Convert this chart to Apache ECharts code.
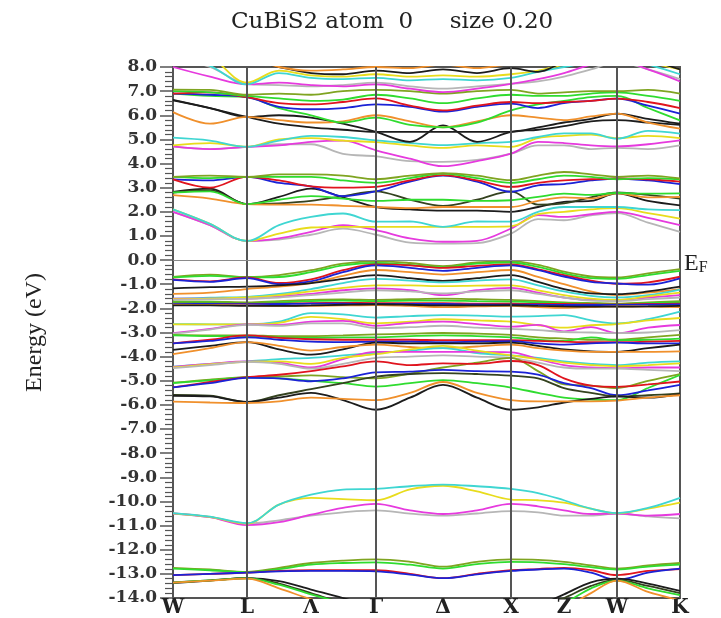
<!DOCTYPE html>
<html>
<head>
<meta charset="utf-8">
<script src="https://cdn.jsdelivr.net/npm/echarts@6/dist/echarts.min.js"></script>
<style>html,body{margin:0;padding:0;background:#fff;}#chart{width:721px;height:618px;}</style>
</head>
<body>
<div id="chart"></div>
<script>
// k-path sampling positions (relative path length) and high-symmetry labels
const kPos = [0,37,74,106,138,170,203,237,270,304,338,365,391,418,444,475,507];
const kNodes = [0,74,203,338,444,507];            // W L Γ X W K
const kLabelPos = [0,74,138,203,270,338,391,444,507];
const kLabels = ['W','L','Λ','Γ','Δ','X','Z','W','K'];
const titleText = 'CuBiS2 atom  0     size 0.20';

// Lowest group (~ -13 eV)
const lowBands = [
 [-12.75,-12.82,-12.92,-12.75,-12.55,-12.45,-12.4,-12.5,-12.7,-12.5,-12.4,-12.42,-12.5,-12.65,-12.78,-12.65,-12.55],
 [-12.78,-12.85,-12.93,-12.8,-12.62,-12.55,-12.52,-12.62,-12.78,-12.6,-12.5,-12.52,-12.6,-12.72,-12.82,-12.7,-12.62],
 [-13.05,-13.0,-12.95,-12.88,-12.85,-12.85,-12.85,-13.0,-13.18,-13.0,-12.85,-12.8,-12.75,-12.85,-13.05,-12.88,-12.8],
 [-13.05,-13.0,-12.95,-12.9,-12.88,-12.88,-12.9,-13.03,-13.18,-13.02,-12.88,-12.82,-12.78,-12.95,-13.25,-12.95,-12.78],
 [-13.38,-13.28,-13.18,-13.3,-13.65,-14.0,-14.4,-14.6,-14.6,-14.6,-14.5,-14.3,-13.85,-13.35,-13.2,-13.4,-13.7],
 [-13.35,-13.27,-13.18,-13.4,-13.8,-14.2,-14.5,-14.6,-14.6,-14.6,-14.5,-14.4,-14.0,-13.5,-13.25,-13.5,-13.8],
 [-13.36,-13.27,-13.19,-13.45,-13.85,-14.2,-14.5,-14.6,-14.6,-14.6,-14.5,-14.4,-14.2,-13.6,-13.28,-13.6,-13.88],
 [-13.36,-13.28,-13.2,-13.6,-14.05,-14.4,-14.6,-14.6,-14.6,-14.6,-14.6,-14.6,-14.4,-13.8,-13.28,-13.75,-14.1]
];
const lowColors = ['olive','green','red','blue','black','darkgreen','green','orange'];

// s-like group (~ -10 eV)
const sBands = [
 [-10.5,-10.65,-10.92,-10.78,-10.59,-10.45,-10.37,-10.5,-10.59,-10.5,-10.4,-10.45,-10.59,-10.59,-10.5,-10.62,-10.7],
 [-10.5,-10.65,-10.98,-10.86,-10.55,-10.27,-10.1,-10.37,-10.52,-10.37,-10.1,-10.2,-10.37,-10.52,-10.5,-10.59,-10.52],
 [-10.49,-10.64,-10.92,-10.13,-9.85,-9.9,-9.95,-9.5,-9.35,-9.58,-9.92,-9.95,-10.05,-10.3,-10.49,-10.3,-10.05],
 [-10.48,-10.63,-10.9,-10.13,-9.72,-9.51,-9.48,-9.37,-9.3,-9.37,-9.48,-9.65,-9.95,-10.3,-10.48,-10.27,-9.85]
];
const sColors = ['grey','magenta','yellow','cyan'];

// Valence bands (-7 .. 0 eV)
const valenceBands = [
 [-0.7,-0.6,-0.7,-0.62,-0.42,-0.15,-0.05,-0.12,-0.25,-0.1,-0.04,-0.2,-0.48,-0.68,-0.72,-0.55,-0.37],
 [-0.72,-0.65,-0.72,-0.7,-0.5,-0.22,-0.12,-0.2,-0.3,-0.15,-0.1,-0.28,-0.55,-0.75,-0.78,-0.62,-0.45],
 [-0.8,-0.88,-0.72,-0.95,-0.8,-0.42,-0.18,-0.22,-0.32,-0.24,-0.18,-0.38,-0.62,-0.85,-0.98,-0.92,-0.69],
 [-0.82,-0.9,-0.75,-1.0,-0.88,-0.5,-0.22,-0.32,-0.45,-0.32,-0.22,-0.42,-0.68,-0.9,-0.97,-1.02,-0.76],
 [-1.4,-1.35,-1.2,-1.1,-0.95,-0.65,-0.41,-0.5,-0.6,-0.5,-0.41,-0.7,-1.0,-1.3,-1.45,-1.35,-1.2],
 [-1.17,-1.12,-1.1,-1.05,-0.95,-0.78,-0.62,-0.75,-0.86,-0.75,-0.62,-0.9,-1.2,-1.38,-1.41,-1.3,-1.1],
 [-1.6,-1.56,-1.52,-1.4,-1.2,-0.95,-0.78,-0.85,-0.92,-0.85,-0.8,-1.05,-1.3,-1.48,-1.55,-1.45,-1.22],
 [-1.6,-1.6,-1.6,-1.5,-1.4,-1.25,-1.17,-1.25,-1.45,-1.25,-1.15,-1.35,-1.55,-1.65,-1.65,-1.55,-1.45],
 [-1.62,-1.6,-1.55,-1.45,-1.3,-1.15,-1.05,-1.05,-1.08,-1.06,-1.05,-1.25,-1.45,-1.6,-1.65,-1.5,-1.35],
 [-1.65,-1.63,-1.6,-1.55,-1.45,-1.35,-1.25,-1.3,-1.38,-1.3,-1.25,-1.4,-1.55,-1.68,-1.7,-1.62,-1.55],
 [-1.72,-1.72,-1.75,-1.7,-1.65,-1.63,-1.65,-1.62,-1.6,-1.62,-1.65,-1.7,-1.75,-1.78,-1.8,-1.75,-1.7],
 [-1.75,-1.75,-1.78,-1.75,-1.7,-1.68,-1.7,-1.68,-1.68,-1.7,-1.72,-1.75,-1.78,-1.8,-1.82,-1.78,-1.75],
 [-1.8,-1.8,-1.8,-1.8,-1.78,-1.77,-1.78,-1.78,-1.78,-1.8,-1.8,-1.82,-1.82,-1.83,-1.84,-1.82,-1.8],
 [-1.82,-1.82,-1.83,-1.82,-1.8,-1.8,-1.82,-1.82,-1.82,-1.84,-1.85,-1.85,-1.86,-1.86,-1.86,-1.85,-1.84],
 [-1.85,-1.86,-1.88,-1.9,-1.9,-1.88,-1.86,-1.9,-1.95,-1.92,-1.9,-1.95,-1.98,-1.95,-1.92,-1.93,-1.95],
 [-1.88,-1.88,-1.9,-1.9,-1.88,-1.85,-1.83,-1.85,-1.88,-1.88,-1.87,-1.9,-1.92,-1.93,-1.93,-1.92,-1.9],
 [-2.65,-2.66,-2.66,-2.55,-2.2,-2.25,-2.38,-2.32,-2.28,-2.3,-2.34,-2.32,-2.28,-2.5,-2.62,-2.45,-2.14],
 [-2.66,-2.66,-2.66,-2.6,-2.35,-2.45,-2.62,-2.55,-2.45,-2.5,-2.55,-2.7,-2.8,-2.7,-2.65,-2.5,-2.4],
 [-3.03,-2.85,-2.66,-2.68,-2.55,-2.52,-2.72,-2.6,-2.55,-2.65,-2.76,-2.68,-2.95,-2.78,-3.03,-2.8,-2.69],
 [-3.05,-2.88,-2.68,-2.72,-2.62,-2.62,-2.82,-2.78,-2.72,-2.8,-2.85,-2.9,-2.98,-3.0,-3.03,-3.0,-2.9],
 [-3.1,-3.12,-3.12,-3.15,-3.15,-3.12,-3.08,-3.05,-3.02,-3.05,-3.1,-3.2,-3.25,-3.3,-3.3,-3.2,-3.1],
 [-3.12,-3.15,-3.15,-3.2,-3.22,-3.2,-3.2,-3.15,-3.12,-3.15,-3.2,-3.3,-3.35,-3.2,-3.32,-3.3,-3.25],
 [-3.45,-3.3,-3.12,-3.22,-3.28,-3.3,-3.3,-3.3,-3.32,-3.32,-3.32,-3.35,-3.38,-3.4,-3.4,-3.38,-3.35],
 [-3.45,-3.35,-3.2,-3.3,-3.38,-3.4,-3.38,-3.38,-3.4,-3.38,-3.36,-3.45,-3.5,-3.45,-3.42,-3.45,-3.45],
 [-3.72,-3.55,-3.4,-3.7,-3.92,-3.7,-3.42,-3.45,-3.45,-3.45,-3.42,-3.55,-3.7,-3.78,-3.8,-3.65,-3.5],
 [-3.9,-3.65,-3.4,-3.55,-3.75,-3.6,-3.5,-3.6,-3.65,-3.58,-3.5,-3.65,-3.75,-3.8,-3.8,-3.8,-3.78],
 [-4.41,-4.3,-4.2,-4.1,-4.05,-3.95,-3.85,-3.75,-3.65,-3.85,-3.95,-4.05,-4.2,-4.3,-4.35,-4.25,-4.2],
 [-4.42,-4.3,-4.2,-4.25,-4.45,-4.1,-3.8,-3.8,-3.8,-3.8,-3.82,-4.1,-4.35,-4.45,-4.48,-4.45,-4.45],
 [-4.45,-4.32,-4.22,-4.2,-4.3,-4.05,-3.9,-3.7,-3.55,-3.75,-3.95,-4.1,-4.25,-4.35,-4.4,-4.35,-4.28],
 [-4.48,-4.35,-4.22,-4.3,-4.5,-4.3,-4.05,-4.0,-3.95,-4.0,-4.05,-4.25,-4.45,-4.5,-4.5,-4.55,-4.6],
 [-5.08,-4.95,-4.85,-4.82,-4.78,-4.85,-4.9,-4.7,-4.45,-4.25,-4.05,-4.6,-5.15,-5.2,-5.3,-5.0,-4.72],
 [-5.1,-4.98,-4.86,-4.9,-5.0,-5.1,-5.24,-5.1,-4.97,-5.1,-5.28,-5.5,-5.7,-5.78,-5.8,-5.3,-4.76],
 [-5.27,-5.05,-4.85,-4.75,-4.6,-4.4,-4.2,-4.35,-4.28,-4.3,-4.18,-4.35,-4.9,-5.2,-5.25,-5.15,-5.03],
 [-5.27,-5.1,-4.88,-4.9,-5.02,-4.9,-4.65,-4.62,-4.55,-4.6,-4.62,-4.75,-5.1,-5.3,-5.6,-5.4,-5.17],
 [-5.59,-5.62,-5.88,-5.6,-5.35,-5.1,-4.83,-4.72,-4.68,-4.72,-4.79,-4.9,-5.3,-5.5,-5.65,-5.6,-5.52],
 [-5.62,-5.65,-5.88,-5.7,-5.5,-5.8,-6.2,-5.7,-5.17,-5.7,-6.2,-6.1,-5.9,-5.75,-5.65,-5.7,-5.55],
 [-5.86,-5.9,-5.92,-5.85,-5.7,-5.75,-5.8,-5.5,-5.05,-5.5,-5.8,-5.85,-5.85,-5.85,-5.82,-5.7,-5.6]
];
const valenceColors = ['olive','green','red','blue','orange','black','cyan','magenta','yellow','grey',
 'olive','green','red','blue','orange','black','cyan','yellow','magenta','grey',
 'olive','green','red','blue','black','orange','cyan','magenta','yellow','grey',
 'olive','green','red','blue','darkgreen','black','orange'];

// Conduction bands (0 .. 8 eV)
const conductionBands = [
 [2.0,1.45,0.79,0.85,1.05,1.3,1.05,0.72,0.68,0.7,1.1,1.7,1.65,1.85,1.95,1.55,1.17],
 [2.0,1.45,0.79,0.9,1.17,1.45,1.24,0.9,0.76,0.8,1.31,1.86,1.79,1.9,2.0,1.75,1.45],
 [2.1,1.5,0.79,1.1,1.35,1.38,1.38,1.38,1.38,1.38,1.4,1.9,2.0,2.1,2.15,1.95,1.72],
 [2.1,1.5,0.79,1.45,1.79,1.93,1.59,1.6,1.38,1.6,1.59,2.0,2.2,2.2,2.2,2.1,2.07],
 [2.83,2.96,2.32,2.62,2.96,2.6,2.2,2.1,2.05,2.05,2.0,2.2,2.41,2.45,2.76,2.45,2.27],
 [2.8,2.9,2.32,2.35,2.45,2.65,2.85,2.5,2.25,2.5,2.85,2.3,2.35,2.6,2.8,2.7,2.55],
 [2.69,2.55,2.32,2.3,2.3,2.25,2.2,2.15,2.2,2.2,2.2,2.45,2.6,2.55,2.76,2.6,2.62],
 [2.8,2.85,2.32,2.5,2.65,2.55,2.45,2.5,2.5,2.45,2.48,2.62,2.75,2.7,2.78,2.75,2.76],
 [3.34,3.3,3.45,3.2,3.05,2.65,2.85,3.25,3.5,3.25,2.83,3.1,3.15,3.3,3.38,3.3,3.15],
 [3.34,3.0,3.45,3.3,3.05,3.0,3.03,3.3,3.52,3.3,3.03,3.2,3.3,3.35,3.38,3.35,3.25],
 [3.45,3.4,3.45,3.45,3.45,3.3,3.2,3.4,3.58,3.4,3.2,3.35,3.5,3.45,3.35,3.4,3.35],
 [3.45,3.5,3.45,3.55,3.55,3.5,3.35,3.5,3.6,3.5,3.31,3.5,3.65,3.55,3.45,3.5,3.38],
 [4.7,4.6,4.69,4.8,4.8,4.4,4.3,4.1,4.07,4.15,4.41,4.75,4.75,4.6,4.65,4.6,4.75],
 [4.71,4.6,4.69,4.75,4.9,4.95,4.55,4.2,3.89,4.1,4.41,4.9,4.85,4.75,4.71,4.8,4.96],
 [4.75,4.85,4.7,5.0,5.05,4.95,4.89,4.75,4.65,4.75,4.69,5.05,5.15,5.2,5.05,5.15,5.05],
 [5.07,4.95,4.69,4.95,5.15,5.1,4.96,4.85,4.76,4.85,4.9,5.1,5.25,5.25,5.03,5.35,5.24],
 [6.64,6.3,5.93,5.65,5.5,5.4,5.31,5.31,5.31,5.31,5.31,5.5,5.7,5.85,6.07,5.85,5.65],
 [6.62,6.3,5.93,6.0,5.9,5.65,5.31,4.9,5.58,4.9,5.31,5.4,5.55,5.75,5.8,5.7,5.6],
 [6.13,5.65,5.93,5.8,5.7,5.75,6.0,5.75,5.5,5.75,6.0,5.9,5.8,5.95,6.07,5.7,5.45],
 [6.9,6.8,6.75,6.3,6.0,5.7,5.9,5.6,5.5,5.7,6.2,6.45,6.6,6.75,6.8,6.3,5.79],
 [6.9,6.85,6.75,6.35,6.25,6.3,6.45,6.35,6.15,6.35,6.48,6.3,6.5,6.6,6.69,6.4,6.07],
 [6.9,6.95,6.75,6.5,6.45,6.55,6.7,6.4,6.2,6.4,6.55,6.5,6.55,6.6,6.69,6.55,6.3],
 [7.0,6.95,6.8,6.7,6.6,6.65,6.85,6.7,6.5,6.7,6.85,6.8,6.8,6.9,6.95,6.8,6.6],
 [7.06,7.05,6.85,6.9,6.85,7.0,7.05,7.0,6.9,7.0,7.05,6.9,6.95,7.0,7.0,7.05,6.9],
 [8.4,8.0,7.3,7.25,7.2,7.25,7.35,7.2,7.1,7.2,7.3,7.4,7.6,7.9,8.2,7.9,7.5],
 [8.0,7.6,7.28,7.35,7.25,7.2,7.28,7.1,6.96,7.1,7.3,7.5,7.75,8.1,8.3,7.9,7.4],
 [8.6,8.4,7.35,7.85,7.65,7.6,7.7,7.6,7.65,7.6,7.7,7.85,8.1,8.3,8.5,8.2,7.9],
 [8.5,8.05,7.28,7.75,7.55,7.5,7.55,7.45,7.5,7.45,7.55,7.8,8.0,8.2,8.4,8.1,7.7],
 [8.5,8.5,8.3,8.0,7.75,7.7,7.85,7.75,7.9,7.75,7.95,7.8,8.2,8.4,8.6,8.3,7.9],
 [8.6,8.5,8.4,8.0,7.85,7.9,8.0,7.95,8.1,7.95,8.1,8.1,8.3,8.5,8.5,8.4,8.1]
];
const conductionColors = ['grey','magenta','yellow','cyan','black','darkgreen','orange','green','blue','red','green','olive',
 'grey','magenta','yellow','cyan','black','black','orange','green','blue','red','green','olive',
 'grey','magenta','yellow','cyan','black','orange'];

const palette = {
  black:'#1c1c1c', darkgreen:'#34421f', red:'#e0141e', green:'#2fdc2f', blue:'#1b22d6',
  cyan:'#3fd6d2', magenta:'#e63ade', yellow:'#e8dc1c', orange:'#f0902c', grey:'#b6b6b6', olive:'#7fa421'
};

const groups = [[lowBands,lowColors],[sBands,sColors],[valenceBands,valenceColors],[conductionBands,conductionColors]];
const series = [];
groups.forEach(([bands, cols]) => {
  bands.forEach((b, i) => {
    series.push({
      type:'line', data: b.map((e, j) => [kPos[j], e]),
      smooth: 0.35, showSymbol:false, silent:true, clip:true,
      lineStyle:{ color: palette[cols[i]], width:1.8 }, z:3
    });
  });
});
// helper series for symmetry lines and Fermi level
series.push({
  type:'line', data:[], silent:true, z:2,
  markLine:{
    symbol:['none','none'], silent:true, animation:false,
    data: kNodes.slice(1,-1).map(v => ({xAxis:v, lineStyle:{color:'#555', width:2, type:'solid'}, label:{show:false}}))
      .concat([{yAxis:0, lineStyle:{color:'#8a8a8a', width:1, type:'solid'},
        label:{show:true, position:'end', distance:4, formatter:'{e|E}{f|F}',
          rich:{ e:{fontSize:24, fontFamily:'Liberation Serif', color:'#222', verticalAlign:'bottom'},
                 f:{fontSize:16, fontFamily:'Liberation Serif', color:'#222', padding:[16,0,0,0], verticalAlign:'bottom'} } }}])
  }
});

const chart = echarts.init(document.getElementById('chart'), null, {renderer:'canvas'});
chart.setOption({
  animation:false,
  backgroundColor:'#fff',
  title:{ text:titleText, left:226, top:6,
    textStyle:{ fontFamily:'DejaVu Serif', fontWeight:'normal', fontSize:23, color:'#222' } },
  grid:{ left:173, right:41, top:67, bottom:19, show:true, borderColor:'#555', borderWidth:2, backgroundColor:'transparent' },
  xAxis:{ type:'value', min:0, max:507,
    axisLine:{show:false}, axisTick:{show:false}, splitLine:{show:false},
    axisLabel:{ customValues:kLabelPos, formatter: v => kLabels[kLabelPos.indexOf(v)],
      fontFamily:'DejaVu Serif', fontWeight:'bold', fontSize:20, color:'#222', margin:0 } },
  yAxis:{ type:'value', min:-14, max:8, interval:1,
    name:'Energy (eV)', nameLocation:'middle', nameGap:126,
    nameTextStyle:{ fontFamily:'Liberation Serif', fontSize:24, color:'#222' },
    axisLine:{show:true, lineStyle:{color:'#555', width:2}},
    axisTick:{show:true, length:13, lineStyle:{color:'#555', width:1.5}},
    minorTick:{show:true, splitNumber:5, length:8, lineStyle:{color:'#555', width:1.2}},
    splitLine:{show:false},
    axisLabel:{ formatter: v => v.toFixed(1), fontFamily:'DejaVu Serif', fontWeight:'bold', fontSize:17, color:'#333', margin:16 } },
  series: series
});
</script>
</body>
</html>
